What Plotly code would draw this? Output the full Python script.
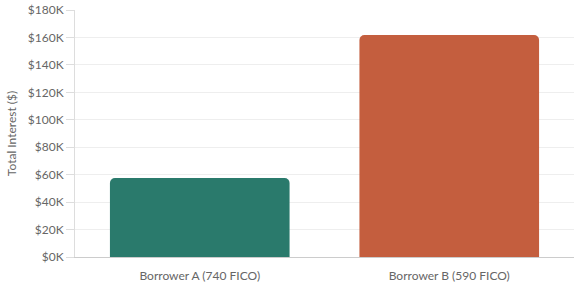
import plotly.graph_objects as go

categories = ["Borrower A (740 FICO)", "Borrower B (590 FICO)"]
total_interest = [57500, 161800]
bar_colors = ["#2a7a6c", "#c45e3e"]
tick_vals = [0, 20000, 40000, 60000, 80000, 100000, 120000, 140000, 160000, 180000]
tick_text = ["$0K", "$20K", "$40K", "$60K", "$80K", "$100K", "$120K", "$140K", "$160K", "$180K"]

fig = go.Figure(go.Bar(x=categories, y=total_interest, marker=dict(color=bar_colors, line=dict(width=0))))
fig.update_layout(
    width=574, height=287,
    margin=dict(l=75, r=0, t=10, b=30),
    paper_bgcolor="white", plot_bgcolor="white",
    bargap=0.28, barcornerradius=5,
    font=dict(family="Lato, Open Sans, sans-serif", size=12, color="#666666"),
    showlegend=False,
)
fig.update_yaxes(
    range=[0, 180000], tickvals=tick_vals, ticktext=tick_text,
    title=dict(text="Total Interest ($)", font=dict(size=12, color="#666666"), standoff=8),
    showgrid=True, gridcolor="#eeeeee", gridwidth=1,
    showline=True, linecolor="#dddddd", linewidth=1,
    ticks="outside", ticklen=8, tickcolor="#dddddd", zeroline=False,
)
fig.update_xaxes(showline=True, linecolor="#cccccc", linewidth=1, ticks="", showgrid=False,
                 ticklabelstandoff=8)
fig.write_html("out.html")
